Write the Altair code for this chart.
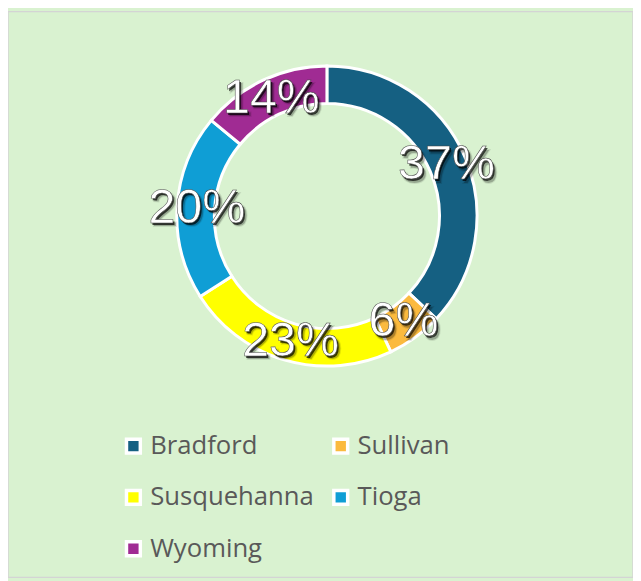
import altair as alt
import pandas as pd

counties = ["Bradford", "Sullivan", "Susquehanna", "Tioga", "Wyoming"]
shares = [37, 6, 23, 20, 14]
labels = ["37%", "6%", "23%", "20%", "14%"]
colors = ["#156082", "#FBBA3E", "#FFFF00", "#0F9ED5", "#A02B93"]

df = pd.DataFrame({"county": counties, "share": shares, "label": labels,
                   "order": list(range(len(counties)))})

W, H = 633, 573
CX, CY = 323, 207

base = alt.Chart(df).encode(
    theta=alt.Theta("share:Q", stack=True),
    order=alt.Order("order:Q"),
)

arcs = base.mark_arc(outerRadius=152, innerRadius=114, stroke="white", strokeWidth=3).encode(
    x=alt.value(CX), y=alt.value(CY),
    color=alt.Color(
        "county:N",
        scale=alt.Scale(domain=counties, range=colors),
        sort=counties,
        legend=alt.Legend(
            title=None, orient="none", legendX=114, legendY=427, columns=2,
            direction="horizontal",
            symbolType="square", symbolSize=196, symbolStrokeColor="white",
            symbolStrokeWidth=3.5, labelFontSize=26, labelFont="Open Sans",
            labelColor="#595959", labelOffset=4, rowPadding=24, columnPadding=13,
            symbolOpacity=1, labelLimit=400,
        ),
    ),
)

shadow2 = base.mark_text(radius=132, font="Liberation Sans", fontSize=49, color="black",
                         opacity=0.3, dx=3, dy=3.5, stroke="black", strokeWidth=2,
                         strokeOpacity=0.3).encode(
    x=alt.value(CX), y=alt.value(CY), text="label:N")
shadow = base.mark_text(radius=132, font="Liberation Sans", fontSize=49, color="black",
                        opacity=0.7, dx=1.5, dy=2).encode(
    x=alt.value(CX), y=alt.value(CY), text="label:N")
txt = base.mark_text(radius=132, font="Liberation Sans", fontSize=49, color="white",
                     stroke="#444444", strokeWidth=0.5).encode(
    x=alt.value(CX), y=alt.value(CY), text="label:N")

chart = alt.layer(arcs, shadow2, shadow, txt).properties(
    width=W, height=H, padding=0,
    autosize=alt.AutoSizeParams(type="none"),
    background="#D9F2D0",
).configure_view(stroke="#D4D4D4", strokeWidth=1.5)

chart.save("out.html", embed_options={"renderer": "svg", "actions": False})
